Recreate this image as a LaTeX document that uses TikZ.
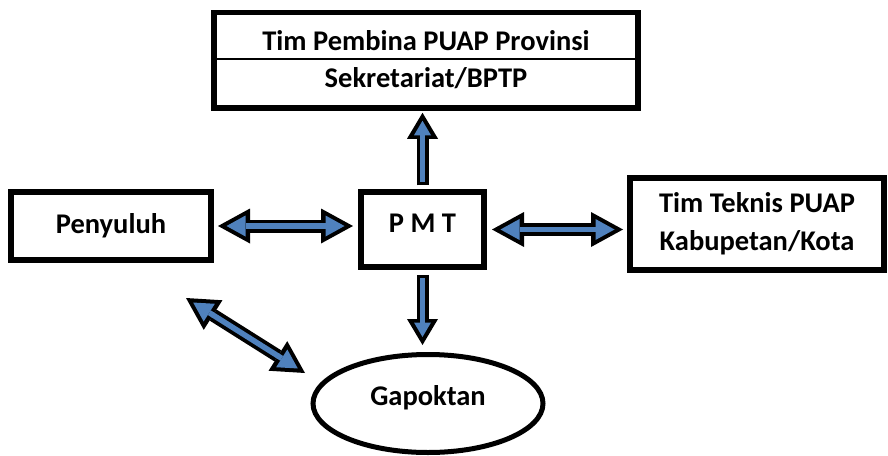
\documentclass[tikz,border=0pt]{standalone}
\usepackage{fontspec}
\setmainfont{Carlito}
\usepackage{tikz}
\usetikzlibrary{calc,arrows.meta,shapes.geometric}
\definecolor{arrow_blue}{HTML}{4F81BD}
\tikzset{
  box/.style={draw,line width=5.5pt,inner sep=0pt,font=\bfseries\fontsize{28.5}{38}\selectfont},
  oneline/.style={text height=19pt,text depth=5pt},
  rowtext/.style={anchor=base,font=\bfseries\fontsize{28.5}{38}\selectfont},
  outer_h/.style={line width=13pt,black,{Triangle[length=32pt,width=35pt,line width=0pt]}-{Triangle[length=32pt,width=35pt,line width=0pt]}},
  inner_h/.style={line width=5.5pt,arrow_blue,{Triangle[length=19pt,width=21pt,line width=0pt]}-{Triangle[length=19pt,width=21pt,line width=0pt]}},
  outer_v/.style={line width=12pt,black,-{Triangle[length=26pt,width=31pt,line width=0pt]}},
  inner_v/.style={line width=5pt,arrow_blue,-{Triangle[length=14.5pt,width=17pt,line width=0pt]}},
}
\begin{document}
\begin{tikzpicture}[x=1pt,y=-1pt]
              \useasboundingbox (0,0) rectangle (888,455);
              \node[box,minimum width=424pt,minimum height=95.5pt] (pembina) at (426,60.25) {};
              \coordinate (garis) at (426,59);
              \draw[line width=1.5pt] (pembina.west |- garis) -- (pembina.east |- garis);
              \node[rowtext] (provinsi) at (426,50) {Tim Pembina PUAP Provinsi};
              \node[rowtext] (bptp) at (426,87) {Sekretariat/BPTP};
              \node[box,oneline,minimum width=200pt,minimum height=68pt] (penyuluh) at (111,226) {Penyuluh};
              \node[box,oneline,text depth=14pt,minimum width=123pt,minimum height=75pt] (pmt) at (422.5,229.5) {P M T};
              \node[box,align=center,minimum width=254pt,minimum height=92pt] (teknis) at (757,224) {Tim Teknis PUAP\\Kabupetan/Kota};
              \node[box,ellipse,line width=5pt,text height=19pt,text depth=16pt,minimum width=230pt,minimum height=98pt] (gapoktan) at (428,403.5) {Gapoktan};
              \coordinate (diagA) at (186,298);
              \coordinate (diagB) at (305,373);
              \draw[outer_v,shorten <=4pt,shorten >=2pt] (pmt.north) -- (pmt.north |- pembina.south);
              \draw[inner_v,shorten <=7.5pt,shorten >=10pt] (pmt.north) -- (pmt.north |- pembina.south);
              \draw[outer_v,shorten <=5pt,shorten >=7pt] (pmt.south) -- (pmt.south |- gapoktan.north);
              \draw[inner_v,shorten <=8.5pt,shorten >=15pt] (pmt.south) -- (pmt.south |- gapoktan.north);
              \draw[outer_h,shorten <=4.25pt,shorten >=5.25pt] (penyuluh.east) -- (pmt.west |- penyuluh.east);
              \draw[inner_h,shorten <=12.75pt,shorten >=13.75pt] (penyuluh.east) -- (pmt.west |- penyuluh.east);
              \draw[outer_h,shorten <=5.25pt,shorten >=4.25pt] (pmt.east) -- (teknis.west |- pmt.east);
              \draw[inner_h,shorten <=13.75pt,shorten >=12.75pt] (pmt.east) -- (teknis.west |- pmt.east);
              \draw[outer_h] (diagA) -- (diagB);
              \draw[inner_h,shorten <=8.5pt,shorten >=8.5pt] (diagA) -- (diagB);
          \end{tikzpicture}
\end{document}
